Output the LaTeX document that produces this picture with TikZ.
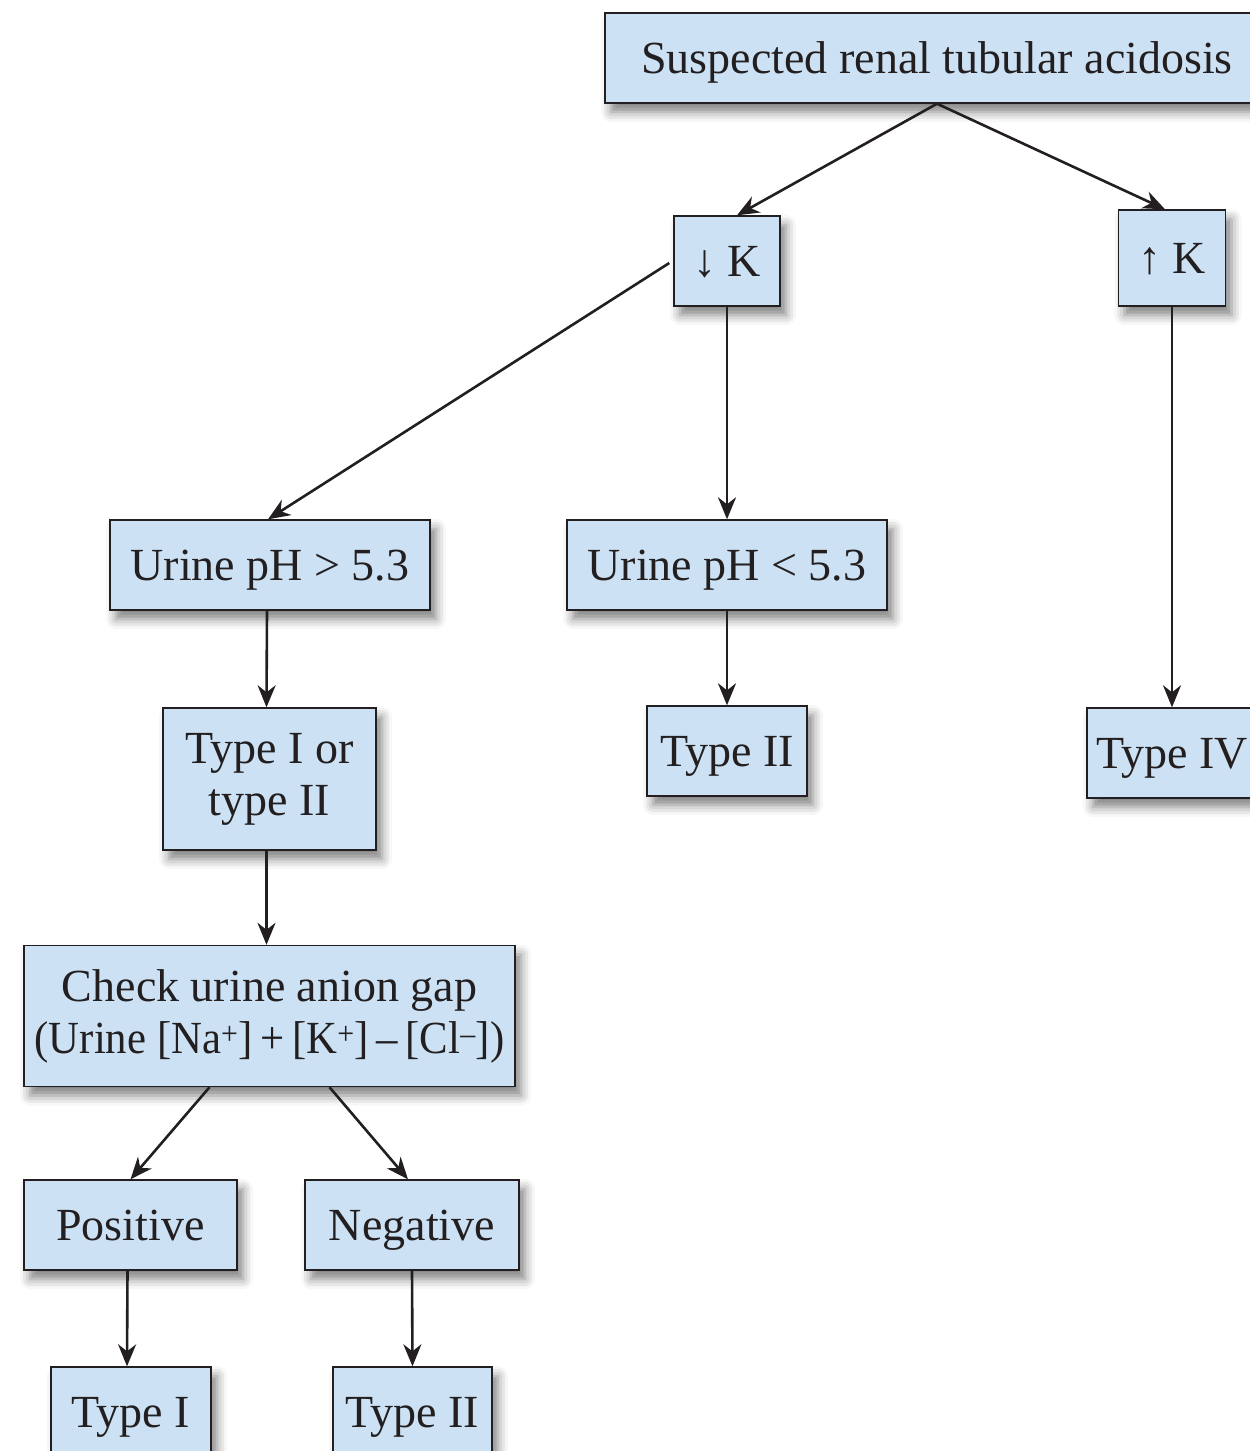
\documentclass[tikz,border=0pt]{standalone}
\usepackage{fontspec}
\setmainfont{Liberation Serif}
\newfontfamily\narrowserif[FakeStretch=0.93]{Liberation Serif}
\usetikzlibrary{arrows.meta,shadows.blur}
\definecolor{boxfill}{RGB}{204,226,244}
\definecolor{ink}{RGB}{35,31,32}
\tikzset{
  box/.style={draw=ink, line width=1.4pt, fill=boxfill, align=center, inner sep=0pt,
    font=\fontsize{46}{52}\selectfont, text=ink, text height=36pt, text depth=6pt,
    blur shadow={shadow xshift=6pt, shadow yshift=-9pt, shadow blur radius=10pt, shadow opacity=50}},
  link/.style={draw=ink, line width=2.6pt, -{Stealth[length=22pt,width=18pt,inset=7pt]}}
}
\begin{document}
\begin{tikzpicture}[x=1pt,y=-1pt]
\useasboundingbox (0,0) rectangle (1250,1451);
% level 0
\node[box, minimum width=664, minimum height=90] (top) at (937,58) {Suspected renal tubular acidosis};
% potassium
\node[box, minimum width=106, minimum height=90] (downK) at (727,261) {↓ K};
\node[box, minimum width=107, minimum height=96] (upK) at (1172,258) {↑ K};
% urine pH
\node[box, minimum width=320, minimum height=90] (phhigh) at (270,565) {Urine pH > 5.3};
\node[box, minimum width=320, minimum height=90] (phlow) at (727,565) {Urine pH < 5.3};
% types
\node[box, minimum width=213, minimum height=142, text height=, text depth=] (typeIorII) at (269.5,779) {Type I or\\type II};
\node[box, minimum width=160, minimum height=90] (typeIImid) at (727,751) {Type II};
\node[box, minimum width=170, minimum height=90] (typeIV) at (1172,753) {Type IV};
% anion gap
\node[box, minimum width=491, minimum height=141, text height=, text depth=] (gap) at (269.5,1016)
  {Check urine anion gap\\{\narrowserif (Urine [Na\textsuperscript{+}]\,+\,[K\textsuperscript{+}]\,–\,[Cl\textsuperscript{–}])}};
\node[box, minimum width=213, minimum height=90] (pos) at (130.5,1225) {Positive};
\node[box, minimum width=214, minimum height=90] (neg) at (412,1225) {Negative};
\node[box, minimum width=160, minimum height=90] (typeI) at (131,1412) {Type I};
\node[box, minimum width=159, minimum height=90] (typeIIbot) at (412.5,1412) {Type II};
% connectors
\draw[link] (top.south) -- ([xshift=10pt]downK.north);
\draw[link] (top.south) -- ([xshift=-7pt]upK.north);
\draw[link] ([xshift=-4pt,yshift=-2pt]downK.west) -- ([xshift=-2pt]phhigh.north);
\draw[link] (downK.south) -- (phlow.north);
\draw[link] (upK.south) -- (typeIV.north);
\draw[link] ([xshift=-3pt]phhigh.south) -- ([xshift=-3pt]typeIorII.north);
\draw[link] (phlow.south) -- (typeIImid.north);
\draw[link] ([xshift=-3pt]typeIorII.south) -- ([xshift=-3pt]gap.north);
\draw[link] ([xshift=-60pt]gap.south) -- (pos.north);
\draw[link] ([xshift=60pt]gap.south) -- ([xshift=-4pt]neg.north);
\draw[link] ([xshift=-3pt]pos.south) -- ([xshift=-4pt]typeI.north);
\draw[link] (neg.south) -- (typeIIbot.north);
\end{tikzpicture}
\end{document}
